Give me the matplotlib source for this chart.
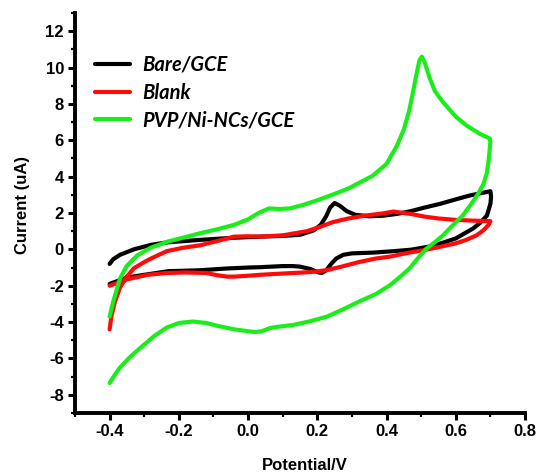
import matplotlib
matplotlib.use("Agg")
import matplotlib.pyplot as plt
from matplotlib.ticker import MultipleLocator

# ---- data ----
bare_v = [-0.40, -0.39, -0.37, -0.33, -0.28, -0.235, -0.19, -0.14, -0.09, -0.04, 0.035, 0.10, 0.15, 0.19, 0.21,
          0.225, 0.237, 0.25, 0.265, 0.285, 0.31, 0.35, 0.39, 0.43, 0.47, 0.51, 0.554, 0.60, 0.64, 0.68, 0.70,
          0.702, 0.70, 0.69, 0.67, 0.65, 0.60, 0.56, 0.525, 0.47, 0.42, 0.36, 0.30, 0.275, 0.255, 0.24, 0.226,
          0.213, 0.20, 0.18, 0.15, 0.13, 0.10, 0.035, 0.0, -0.06, -0.14, -0.23, -0.30, -0.35, -0.40]
bare_i = [-0.80, -0.55, -0.30, 0.0, 0.25, 0.38, 0.45, 0.52, 0.58, 0.64, 0.70, 0.74, 0.80, 1.05, 1.35,
          1.80, 2.30, 2.55, 2.40, 2.10, 1.90, 1.82, 1.85, 1.95, 2.10, 2.30, 2.50, 2.75, 2.96, 3.12, 3.20,
          2.90, 2.50, 1.86, 1.45, 1.15, 0.60, 0.35, 0.16, -0.02, -0.10, -0.18, -0.22, -0.30, -0.50, -0.80, -1.15,
          -1.30, -1.25, -1.08, -0.95, -0.92, -0.92, -0.98, -1.00, -1.05, -1.15, -1.20, -1.40, -1.55, -1.90]

blank_v = [-0.40, -0.395, -0.385, -0.37, -0.35, -0.33, -0.30, -0.28, -0.235, -0.19, -0.14, -0.09, -0.06, -0.04,
           0.0, 0.035, 0.10, 0.17, 0.21, 0.245, 0.29, 0.34, 0.39, 0.42, 0.45, 0.47, 0.51, 0.55, 0.60, 0.65, 0.70,
           0.695, 0.68, 0.66, 0.63, 0.60, 0.55, 0.505, 0.46, 0.41, 0.37, 0.32, 0.27, 0.226, 0.18, 0.13, 0.08,
           0.035, 0.0, -0.04, -0.06, -0.09, -0.12, -0.18, -0.235, -0.29, -0.35, -0.40]
blank_i = [-4.40, -3.70, -2.90, -2.10, -1.50, -1.04, -0.70, -0.50, -0.10, 0.08, 0.22, 0.45, 0.60, 0.70,
           0.72, 0.70, 0.77, 1.00, 1.25, 1.50, 1.70, 1.86, 1.98, 2.08, 2.00, 1.95, 1.80, 1.70, 1.62, 1.58, 1.55,
           1.35, 1.05, 0.77, 0.52, 0.33, 0.12, -0.05, -0.20, -0.40, -0.50, -0.70, -0.95, -1.15, -1.25, -1.30, -1.35,
           -1.40, -1.45, -1.50, -1.50, -1.42, -1.30, -1.27, -1.30, -1.40, -1.65, -2.00]

pvp_v = [-0.40, -0.39, -0.37, -0.35, -0.32, -0.28, -0.23, -0.18, -0.14, -0.09, -0.04, 0.0, 0.03, 0.06, 0.09,
         0.12, 0.16, 0.20, 0.25, 0.29, 0.33, 0.36, 0.40, 0.43, 0.45, 0.465, 0.475, 0.485, 0.495, 0.502, 0.51,
         0.525, 0.54, 0.563, 0.60, 0.632, 0.67, 0.698,
         0.70, 0.695, 0.69, 0.68, 0.665, 0.645, 0.62, 0.59, 0.563, 0.54, 0.516, 0.49, 0.467, 0.44, 0.41, 0.37,
         0.323, 0.28, 0.228, 0.18, 0.13, 0.09, 0.063, 0.04, 0.02, 0.0, -0.04, -0.09, -0.12, -0.16, -0.20, -0.235,
         -0.27, -0.31, -0.34, -0.37, -0.385, -0.40]
pvp_i = [-3.70, -2.90, -1.60, -0.90, -0.33, 0.10, 0.44, 0.68, 0.88, 1.10, 1.35, 1.65, 2.00, 2.25, 2.22,
         2.25, 2.45, 2.70, 3.05, 3.35, 3.75, 4.05, 4.70, 5.70, 6.60, 7.60, 8.50, 9.50, 10.40, 10.60, 10.30,
         9.40, 8.70, 8.10, 7.30, 6.80, 6.35, 6.10,
         5.90, 4.90, 4.20, 3.60, 3.07, 2.50, 1.86, 1.30, 0.77, 0.40, 0.05, -0.50, -1.04, -1.50, -1.97, -2.45,
         -2.85, -3.25, -3.70, -3.95, -4.16, -4.25, -4.33, -4.50, -4.55, -4.50, -4.40, -4.20, -4.05, -3.97, -4.05, -4.30,
         -4.75, -5.40, -5.90, -6.50, -6.90, -7.35]

labels = ["Bare/GCE", "Blank", "PVP/Ni-NCs/GCE"]
colors = ["#000000", "#ff0a0a", "#1aee1a"]

x_ticks = [-0.4, -0.2, 0.0, 0.2, 0.4, 0.6, 0.8]
y_ticks = [-8, -6, -4, -2, 0, 2, 4, 6, 8, 10, 12]

# ---- figure ----
fig = plt.figure(figsize=(5.42, 4.75), dpi=100)
ax = fig.add_axes([75 / 542, 1 - 413 / 475, 450 / 542, 400 / 475])

series = [(bare_v, bare_i), (blank_v, blank_i), (pvp_v, pvp_i)]
for (v, i), lab, c in zip(series, labels, colors):
    ax.plot(v, i, color=c, lw=3.0, label=lab, solid_joinstyle="round", solid_capstyle="round")

ax.set_xlim(-0.5, 0.8)
ax.set_ylim(-9, 13)
ax.set_xticks(x_ticks)
ax.set_xticklabels([f"{t:.1f}" for t in x_ticks])
ax.set_yticks(y_ticks)
ax.set_yticklabels([str(t) for t in y_ticks])
ax.xaxis.set_minor_locator(MultipleLocator(0.1))
ax.yaxis.set_minor_locator(MultipleLocator(1))

for s in ["top", "right"]:
    ax.spines[s].set_visible(False)
for s in ["left", "bottom"]:
    ax.spines[s].set_linewidth(2.8)

tick_font = dict(family="Liberation Sans", weight="bold", size=12)
ax.tick_params(which="major", direction="out", length=5, width=2.2, pad=3)
ax.tick_params(which="minor", direction="out", length=3, width=1.6)
for lbl in ax.get_xticklabels() + ax.get_yticklabels():
    lbl.set_fontfamily("Liberation Sans")
    lbl.set_fontweight("bold")
    lbl.set_fontsize(12)

ax.set_xlabel("Potential/V", fontdict=tick_font)
ax.set_ylabel("Current (uA)", fontdict=tick_font)
ax.xaxis.set_label_coords(0.51, -0.112)
ax.yaxis.set_label_coords(-0.10, 0.52)

leg = ax.legend(loc="upper left", bbox_to_anchor=(0.044, 0.895), frameon=False,
                prop=dict(family="Lato", weight="bold", style="italic", size=14.5),
                handlelength=1.75, handletextpad=0.6, labelspacing=0.38,
                borderpad=0, borderaxespad=0)
for h in leg.get_lines():
    h.set_linewidth(3.0)

fig.savefig("out.png", dpi=100)
